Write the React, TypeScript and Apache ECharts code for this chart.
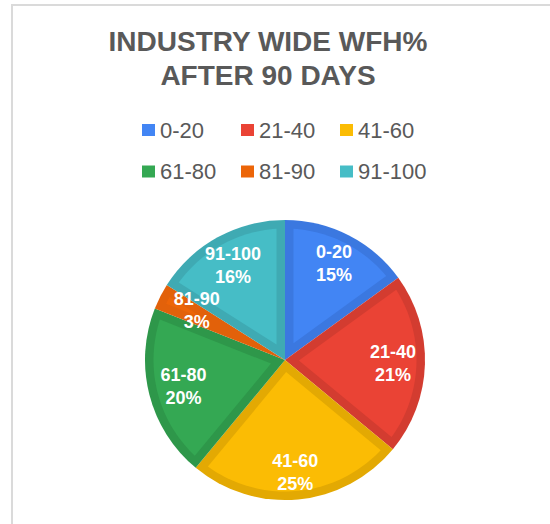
import React, { useEffect, useRef } from "react";
import * as echarts from "echarts";

const categories = ["0-20", "21-40", "41-60", "61-80", "81-90", "91-100"];
const shares = [15, 21, 25, 20, 3, 16];
const fillColors = ["#4285f4", "#ea4335", "#fbbc04", "#34a853", "#ec6508", "#46bdc6"];
const bandColors = ["#3b78e0", "#d33c30", "#e3a903", "#2e974a", "#e2610a", "#3faab3"];
const titleText = "INDUSTRY WIDE WFH%\nAFTER 90 DAYS";

const FONT = "Arial, 'Liberation Sans', sans-serif";
const CENTER = [285, 360];
const RADIUS = 140;
const BAND = 8.5;

export default function App() {
  const ref = useRef<HTMLDivElement>(null);
  useEffect(() => {
    const chart = echarts.init(ref.current!, null, { renderer: "svg" });
    const legendCols = [142, 241, 340];
    const legendRows = [119, 160.5];
    const legends = categories.map((name, i) => ({
      data: [{ name, itemStyle: { color: fillColors[i], borderWidth: 0 } }],
      left: legendCols[i % 3],
      top: legendRows[Math.floor(i / 3)],
      padding: 0,
      itemWidth: 13,
      itemHeight: 12,
      icon: "rect",
      selectedMode: false,
      textStyle: { fontSize: 22, color: "#595959", fontFamily: FONT },
    }));
    const total = shares.reduce((a, b) => a + b, 0);
    const pt = (r: number, a: number) => [CENTER[0] + r * Math.sin(a), CENTER[1] - r * Math.cos(a)];
    chart.setOption({
      animation: false,
      title: {
        text: titleText,
        left: 268,
        top: 24,
        padding: 0,
        textAlign: "center",
        textStyle: {
          fontSize: 28,
          fontWeight: "bold",
          color: "#595959",
          fontFamily: FONT,
          lineHeight: 34,
        },
      },
      legend: legends,
      graphic: [
        {
          type: "rect",
          silent: true,
          z: -10,
          shape: { x: 12, y: 5, width: 700, height: 700 },
          style: { fill: "none", stroke: "#dadada", lineWidth: 2 },
        },
      ],
      series: [
        {
          type: "pie",
          name: "main",
          center: CENTER,
          radius: RADIUS,
          startAngle: 90,
          clockwise: true,
          label: { show: false },
          labelLine: { show: false },
          emphasis: { disabled: true },
          itemStyle: { borderWidth: 0 },
          data: categories.map((name, i) => ({
            name,
            value: shares[i],
            itemStyle: { color: bandColors[i] },
          })),
        },
        {
          type: "custom",
          name: "inner",
          coordinateSystem: "none",
          silent: true,
          z: 3,
          data: shares.map((v) => [v]),
          renderItem: (params: any, api: any) => {
            const i = params.dataIndex;
            let before = 0;
            for (let k = 0; k < i; k++) before += shares[k];
            const a0 = (before / total) * Math.PI * 2;
            const a1 = ((before + api.value(0)) / total) * Math.PI * 2;
            const half = (a1 - a0) / 2;
            const rho = RADIUS - BAND;
            const d = BAND / Math.sin(Math.min(half, Math.PI / 2));
            const s = a0 + Math.asin(BAND / rho);
            const e = a1 - Math.asin(BAND / rho);
            if (!(e > s) || d >= rho) return null;
            const pts: number[][] = [pt(d, a0 + half)];
            const n = Math.max(2, Math.ceil((e - s) / 0.03));
            for (let j = 0; j <= n; j++) pts.push(pt(rho, s + ((e - s) * j) / n));
            return {
              type: "polygon",
              shape: { points: pts },
              style: { fill: fillColors[i] },
            };
          },
        },
        {
          type: "pie",
          name: "labels",
          center: CENTER,
          radius: [70, RADIUS],
          startAngle: 90,
          clockwise: true,
          silent: true,
          z: 5,
          emphasis: { disabled: true },
          itemStyle: { color: "rgba(0,0,0,0)" },
          labelLine: { show: false },
          label: {
            show: true,
            position: "inside",
            color: "#ffffff",
            fontSize: 18,
            fontWeight: "bold",
            lineHeight: 23,
            fontFamily: FONT,
            formatter: (p: any) => `${p.name}\n${Math.round(p.percent)}%`,
          },
          labelLayout: (p: any) =>
            p.dataIndex === 2 ? { dy: 5 } : p.dataIndex === 4 ? { dx: 8 } : p.dataIndex === 3 ? { dx: 3 } : {},
          data: categories.map((name, i) => ({ name, value: shares[i] })),
        },
      ],
    });
    return () => chart.dispose();
  }, []);
  return (
    <div
      ref={ref}
      style={{ position: "fixed", left: 0, top: 0, width: 550, height: 524, background: "#fff" }}
    />
  );
}
